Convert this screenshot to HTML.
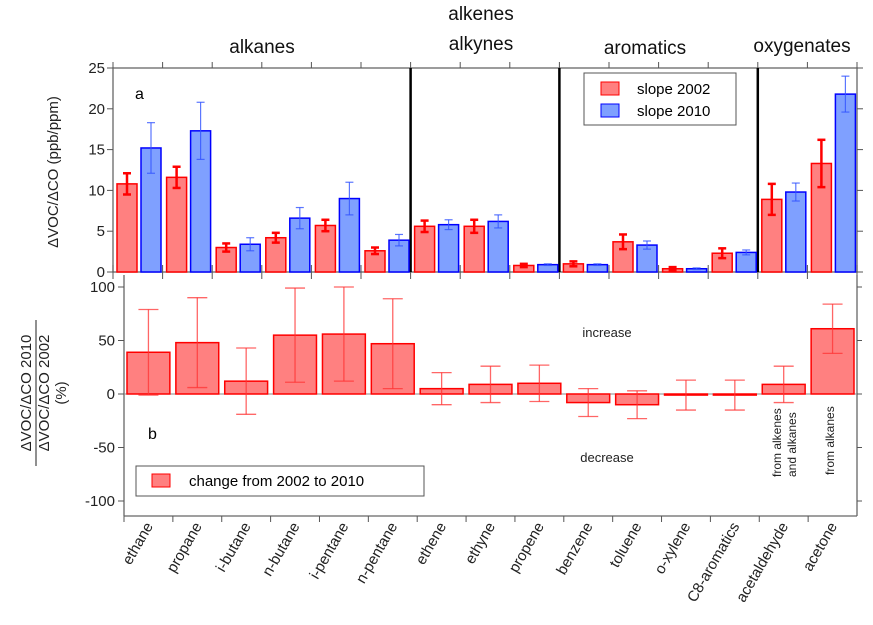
<!DOCTYPE html>
<html><head><meta charset="utf-8"><style>
html,body{margin:0;padding:0;background:#fff;}
svg{display:block;font-family:"Liberation Sans",sans-serif;}
</style></head><body>
<svg id="chart" width="873" height="625" viewBox="0 0 873 625" xmlns="http://www.w3.org/2000/svg">
<g id="panelA"></g>
<g id="panelB"></g>
<g font-size="19" fill="#111" text-anchor="middle">
<text x="262" y="53">alkanes</text>
<text x="481" y="20">alkenes</text>
<text x="481" y="50">alkynes</text>
<text x="645" y="54">aromatics</text>
<text x="802" y="52">oxygenates</text>
</g>
<text transform="translate(58,172) rotate(-90)" text-anchor="middle" font-size="15" fill="#222">ΔVOC/ΔCO (ppb/ppm)</text>
<g font-size="15" fill="#222" text-anchor="middle">
<text transform="translate(31,393) rotate(-90)">ΔVOC/ΔCO 2010</text>
<line x1="36" y1="320" x2="36" y2="466" stroke="#222" stroke-width="1"/>
<text transform="translate(49,393) rotate(-90)">ΔVOC/ΔCO 2002</text>
<text transform="translate(66,393) rotate(-90)">(%)</text>
</g>
<text x="135" y="99" font-size="16">a</text>
<text x="148" y="439" font-size="16">b</text>
<text x="607" y="337" font-size="13" text-anchor="middle" fill="#222">increase</text>
<text x="607" y="462" font-size="13" text-anchor="middle" fill="#222">decrease</text>
<g font-size="12" fill="#222">
<text transform="translate(781,477) rotate(-90)">from alkenes</text>
<text transform="translate(796,477) rotate(-90)">and alkanes</text>
<text transform="translate(834,475) rotate(-90)">from alkanes</text>
</g>
<g>
<rect x="584" y="73" width="152" height="52" fill="#fff" stroke="#555"/>
<rect x="601" y="82" width="18" height="13" fill="#ff8080" stroke="#f00"/>
<text x="637" y="94" font-size="15">slope 2002</text>
<rect x="601" y="104" width="18" height="13" fill="#7fa0ff" stroke="#00f"/>
<text x="637" y="116" font-size="15">slope 2010</text>
</g>
<g>
<rect x="136" y="466" width="288" height="30" fill="#fff" stroke="#555"/>
<rect x="152" y="474" width="18" height="13" fill="#ff8080" stroke="#f00"/>
<text x="189" y="486" font-size="15">change from 2002 to 2010</text>
</g>
</svg>
<script>
const categories=["ethane","propane","i-butane","n-butane","i-pentane","n-pentane","ethene","ethyne","propene","benzene","toluene","o-xylene","C8-aromatics","acetaldehyde","acetone"];
const slope2002=[10.8,11.6,3.0,4.2,5.7,2.6,5.6,5.6,0.8,1.0,3.7,0.4,2.3,8.9,13.3];
const err2002=[1.3,1.3,0.5,0.6,0.7,0.4,0.7,0.8,0.2,0.3,0.9,0.2,0.6,1.9,2.9];
const slope2010=[15.2,17.3,3.4,6.6,9.0,3.9,5.8,6.2,0.9,0.9,3.3,0.4,2.4,9.8,21.8];
const err2010=[3.1,3.5,0.8,1.3,2.0,0.7,0.6,0.8,0.1,0.1,0.5,0.1,0.3,1.1,2.2];
const change=[39,48,12,55,56,47,5,9,10,-8,-10,-1,-1,9,61];
const changeErr=[40,42,31,44,44,42,15,17,17,13,13,14,14,17,23];
const ticksA=[0,5,10,15,20,25];
const ticksB=[-100,-50,0,50,100];
const groupBounds=[6,9,13];

const NS="http://www.w3.org/2000/svg";
function el(p,t,a){const e=document.createElementNS(NS,t);for(const k in a)e.setAttribute(k,a[k]);p.appendChild(e);return e;}
const gTop=document.getElementById('panelA'),gBot=document.getElementById('panelB');
const aL=113,aR=857,aT=68,aB=272;
const n=categories.length,aw=(aR-aL)/n;
const xa=i=>aL+i*aw;
const ya=v=>aB-(v/25)*(aB-aT);
const bL=124,bR=857,bT=275,bB=516;
const bw=(bR-bL)/n;
const xb=i=>bL+i*bw;
const yb=v=>394-v*1.07;

el(gTop,'rect',{x:aL,y:aT,width:aR-aL,height:aB-aT,fill:'none',stroke:'#666','stroke-width':1.3});
for(let i=0;i<=n;i++){el(gTop,'line',{x1:xa(i),y1:aT,x2:xa(i),y2:aT-6,stroke:'#555'});el(gTop,'line',{x1:xa(i),y1:aB-7,x2:xa(i),y2:aB+7,stroke:'#555'});}
ticksA.forEach(t=>{const y=ya(t);
 el(gTop,'line',{x1:aL-6,y1:y,x2:aL,y2:y,stroke:'#555'});
 el(gTop,'line',{x1:aR,y1:y,x2:aR+6,y2:y,stroke:'#555'});
 const tx=el(gTop,'text',{x:aL-8,y:y+5,'text-anchor':'end','font-size':15,fill:'#222'});tx.textContent=t;
 
 
});
groupBounds.forEach(g=>{const l=el(gTop,'line',{x1:xa(g),y1:aT,x2:xa(g),y2:aB,stroke:'#000','stroke-width':2.5});
 
 });
function errbar(p,x,y1,y2,cw,col,sw,op){
 el(p,'line',{x1:x,y1:y1,x2:x,y2:y2,stroke:col,'stroke-width':sw,opacity:op});
 el(p,'line',{x1:x-cw,y1:y1,x2:x+cw,y2:y1,stroke:col,'stroke-width':sw,opacity:op});
 el(p,'line',{x1:x-cw,y1:y2,x2:x+cw,y2:y2,stroke:col,'stroke-width':sw,opacity:op});
}
categories.forEach((c,i)=>{
 const r=el(gTop,'rect',{x:xa(i)+4,y:ya(slope2002[i]),width:20,height:aB-ya(slope2002[i]),fill:'#ff8080',stroke:'#f00','stroke-width':1.5});
 
 
 const b=el(gTop,'rect',{x:xa(i)+28,y:ya(slope2010[i]),width:20,height:aB-ya(slope2010[i]),fill:'#7fa0ff',stroke:'#00f','stroke-width':1.5});
 
 
 errbar(gTop,xa(i)+14,ya(slope2002[i]+err2002[i]),ya(slope2002[i]-err2002[i]),4,'#f00',2.5,1);
 errbar(gTop,xa(i)+38,ya(slope2010[i]+err2010[i]),ya(slope2010[i]-err2010[i]),4,'#3355ff',1.2,0.8);
});

el(gBot,'line',{x1:bL,y1:bT,x2:bL,y2:bB,stroke:'#666','stroke-width':1.3});
el(gBot,'line',{x1:bL,y1:bB,x2:bR,y2:bB,stroke:'#666','stroke-width':1.3});
el(gBot,'line',{x1:bR,y1:bT,x2:bR,y2:bB,stroke:'#666','stroke-width':1.3});
ticksB.forEach(t=>{const y=yb(t);
 el(gBot,'line',{x1:bL-6,y1:y,x2:bL,y2:y,stroke:'#555'});
 el(gBot,'line',{x1:bR,y1:y,x2:bR+5,y2:y,stroke:'#555'});
 const tx=el(gBot,'text',{x:bL-9,y:y+5,'text-anchor':'end','font-size':15,fill:'#222'});tx.textContent=t;
 
 
});
el(gBot,'line',{x1:bL,y1:yb(0),x2:bR,y2:yb(0),stroke:'#888','stroke-width':1});
categories.forEach((c,i)=>{
 const v=change[i];
 const r=el(gBot,'rect',{x:xb(i)+3,y:Math.min(yb(v),yb(0)),width:bw-6,height:Math.abs(yb(v)-yb(0)),fill:'#ff8080',stroke:'#f00','stroke-width':1.5});
 
 
 errbar(gBot,xb(i)+bw/2,yb(v+changeErr[i]),yb(v-changeErr[i]),10,'#f33',1.3,0.75);
 el(gBot,'line',{x1:xb(i),y1:bB,x2:xb(i),y2:bB+6,stroke:'#555'});
 const tx=el(gBot,'text',{transform:`translate(${xb(i)+bw/2+5},526) rotate(-60)`,'text-anchor':'end','font-size':15,fill:'#222'});
 tx.textContent=c;
 
 
});
</script>
</body></html>
